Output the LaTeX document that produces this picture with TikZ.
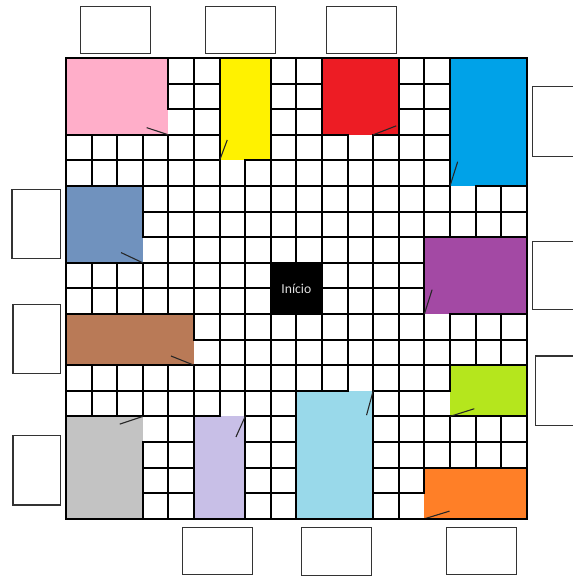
\documentclass[tikz,border=0pt]{standalone}
\usepackage{fontspec}
\setmainfont{Carlito}
\usepackage{tikz}
\usetikzlibrary{calc}
\usepackage{xcolor}
\definecolor{roompink}{RGB}{255,174,201}
\definecolor{roomyellow}{RGB}{255,242,0}
\definecolor{roomred}{RGB}{237,28,36}
\definecolor{roomblue}{RGB}{0,162,232}
\definecolor{roomsteel}{RGB}{112,146,190}
\definecolor{roombrown}{RGB}{185,122,87}
\definecolor{roompurple}{RGB}{163,73,164}
\definecolor{roomlime}{RGB}{181,230,29}
\definecolor{roomsky}{RGB}{153,217,234}
\definecolor{roomorange}{RGB}{255,127,39}
\definecolor{roomgray}{RGB}{195,195,195}
\definecolor{roomlavender}{RGB}{200,191,231}

\begin{document}
\begin{tikzpicture}[x=0.5cm,y=-0.5cm,
    cellline/.style={black, line width=1.1pt},
    wall/.style={black, line width=1.1pt, line join=miter},
    doorline/.style={black!85, line width=0.6pt},
    namebox/.style={draw=black!80, line width=0.6pt, fill=white}]
            \useasboundingbox (-2.578,-2.266) rectangle (19.766,20.273);

            % Board grid
            \foreach \i in {0,...,18} {
                \draw[cellline] (\i,0) -- (\i,18);
                \draw[cellline] (0,\i) -- (18,\i);
            }

            % Pink room
            \fill[roompink] (0,0) rectangle (4,3);
            \fill[white] (4,2) rectangle (5,3);
            \draw[wall] (0,0) -- (4,0) -- (4,2) -- (5,2) -- (5,3) -- (0,3) -- cycle;
            \draw[doorline] (4,3) -- (3.15,2.72);

            % Yellow room
            \fill[roomyellow] (6,0) rectangle (8,4);
            \fill[white] (6,4) rectangle (7,5);
            \draw[wall] (6,0) -- (8,0) -- (8,4) -- (7,4) -- (7,5) -- (6,5) -- cycle;
            \draw[doorline] (6,4) -- (6.3,3.2);

            % Red room
            \fill[roomred] (10,0) rectangle (13,3);
            \fill[white] (11,3) rectangle (12,4);
            \draw[wall] (10,0) -- (13,0) -- (13,3) -- (12,3) -- (12,4) -- (11,4) -- (11,3) -- (10,3) -- cycle;
            \draw[doorline] (12,3) -- (12.9,2.65);

            % Blue room
            \fill[roomblue] (15,0) rectangle (18,5);
            \fill[white] (15,5) rectangle (16,6);
            \draw[wall] (15,0) -- (18,0) -- (18,5) -- (16,5) -- (16,6) -- (15,6) -- cycle;
            \draw[doorline] (15,5) -- (15.3,4.05);

            % Steel blue room
            \fill[roomsteel] (0,5) rectangle (3,8);
            \fill[white] (3,7) rectangle (4,8);
            \draw[wall] (0,5) -- (3,5) -- (3,7) -- (4,7) -- (4,8) -- (0,8) -- cycle;
            \draw[doorline] (3,8) -- (2.15,7.6);

            % Brown room
            \fill[roombrown] (0,10) rectangle (5,12);
            \fill[white] (5,11) rectangle (6,12);
            \draw[wall] (0,10) -- (5,10) -- (5,11) -- (6,11) -- (6,12) -- (0,12) -- cycle;
            \draw[doorline] (5,12) -- (4.1,11.64);

            % Start
            \draw[wall, fill=black] (8,8) rectangle (10,10);
            \node[text=white!88!black, font=\fontsize{7.6}{9}\selectfont] (inicio) at (9,9) {Início};

            % Purple room
            \fill[roompurple] (14,7) rectangle (18,10);
            \fill[white] (14,10) rectangle (15,11);
            \draw[wall] (14,7) -- (18,7) -- (18,10) -- (15,10) -- (15,11) -- (14,11) -- cycle;
            \draw[doorline] (14,10) -- (14.3,9.05);

            % Lime room
            \fill[roomlime] (15,12) rectangle (18,14);
            \fill[white] (14,13) rectangle (15,14);
            \draw[wall] (15,12) -- (18,12) -- (18,14) -- (14,14) -- (14,13) -- (15,13) -- cycle;
            \draw[doorline] (15,14) -- (15.95,13.7);

            % Light blue room
            \fill[roomsky] (9,13) rectangle (12,18);
            \fill[white] (11,12) rectangle (12,13);
            \draw[wall] (9,13) -- (11,13) -- (11,12) -- (12,12) -- (12,18) -- (9,18) -- cycle;
            \draw[doorline] (12,13) -- (11.74,13.95);

            % Orange room
            \fill[roomorange] (14,16) rectangle (18,18);
            \fill[white] (13,17) rectangle (14,18);
            \draw[wall] (14,16) -- (18,16) -- (18,18) -- (13,18) -- (13,17) -- (14,17) -- cycle;
            \draw[doorline] (14,18) -- (14.98,17.7);

            % Gray room
            \fill[roomgray] (0,14) rectangle (3,18);
            \fill[white] (3,14) rectangle (4,15);
            \draw[wall] (0,14) -- (4,14) -- (4,15) -- (3,15) -- (3,18) -- (0,18) -- cycle;
            \draw[doorline] (3,14) -- (2.1,14.3);

            % Lavender room
            \fill[roomlavender] (5,14) rectangle (7,18);
            \fill[white] (6,13) rectangle (7,14);
            \draw[wall] (5,14) -- (6,14) -- (6,13) -- (7,13) -- (7,18) -- (5,18) -- cycle;
            \draw[doorline] (7,14) -- (6.64,14.8);

            % Board frame
            \draw[wall] (0,0) rectangle (18,18);

            % Name boxes (top)
            \draw[namebox] (0.55,-2.03) rectangle (3.31,-0.18);
            \draw[namebox] (5.44,-2.03) rectangle (8.20,-0.18);
            \draw[namebox] (10.16,-2.03) rectangle (12.92,-0.18);

            % Name boxes (right)
            \draw[namebox] (18.24,1.12) rectangle (20.2,3.83);
            \draw[namebox] (18.24,7.15) rectangle (20.2,9.84);
            \draw[namebox] (18.35,11.64) rectangle (20.2,14.36);

            % Name boxes (left)
            \draw[namebox] (-2.11,5.12) rectangle (-0.23,7.84);
            \draw[namebox] (-2.07,9.62) rectangle (-0.21,12.32);
            \draw[namebox] (-2.07,14.73) rectangle (-0.21,17.46);

            % Name boxes (bottom)
            \draw[namebox] (4.56,18.33) rectangle (7.29,20.18);
            \draw[namebox] (9.19,18.35) rectangle (11.94,20.2);
            \draw[namebox] (14.86,18.35) rectangle (17.6,20.18);
        \end{tikzpicture}
\end{document}
